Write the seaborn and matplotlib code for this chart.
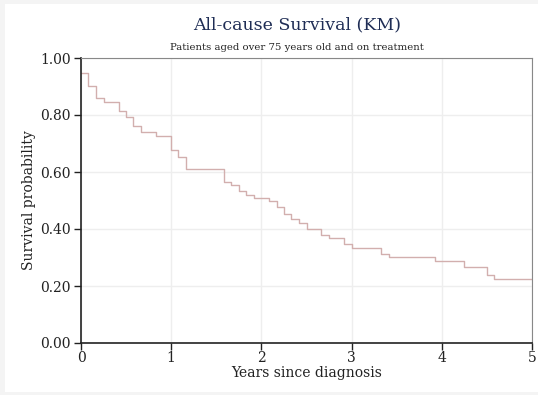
import matplotlib
matplotlib.use("Agg")
import matplotlib.pyplot as plt
import seaborn as sns
import pandas as pd
from matplotlib.patches import Rectangle

times = [0, 0.08, 0.17, 0.25, 0.42, 0.5, 0.58, 0.66, 0.83, 1.0, 1.08, 1.16, 1.58, 1.66,
         1.75, 1.83, 1.92, 2.08, 2.17, 2.25, 2.33, 2.42, 2.5, 2.66, 2.75, 2.92, 3.0, 3.33,
         3.42, 3.92, 4.25, 4.5, 4.58, 5.0]
surv = [0.946, 0.903, 0.859, 0.847, 0.815, 0.794, 0.760, 0.741, 0.727, 0.676, 0.651, 0.609,
        0.565, 0.553, 0.533, 0.520, 0.508, 0.498, 0.476, 0.454, 0.434, 0.421, 0.400, 0.378,
        0.367, 0.346, 0.334, 0.312, 0.301, 0.289, 0.268, 0.239, 0.224, 0.224]
xticks = [0, 1, 2, 3, 4, 5]
yticks = [0.0, 0.2, 0.4, 0.6, 0.8, 1.0]
ytick_labels = ["0.00", "0.20", "0.40", "0.60", "0.80", "1.00"]

sns.set_theme(style="white")
plt.rcParams["font.family"] = ["DejaVu Serif"]

W, H = 538, 395
fig = plt.figure(figsize=(W / 100, H / 100), dpi=100, facecolor="#f4f4f4")
fig.patches.append(Rectangle((5 / W, 3 / H), 1 - 5 / W, 1 - 7 / H, transform=fig.transFigure,
                             facecolor="white", edgecolor="none", zorder=-10))

ax = fig.add_axes([81 / W, 1 - 343 / H, (532 - 81) / W, (343 - 58) / H])
ax.set_zorder(1)
ax.set_facecolor("white")

df = pd.DataFrame({"t": times, "s": surv})
sns.lineplot(data=df, x="t", y="s", ax=ax, drawstyle="steps-post", color="#d2afae",
             linewidth=1.0)

ax.set_xlim(0, 5)
ax.set_ylim(0, 1)
ax.set_xticks(xticks)
ax.set_xticklabels([str(x) for x in xticks])
ax.set_yticks(yticks)
ax.set_yticklabels(ytick_labels)
ax.grid(True, color="#eeeeee", linewidth=1.0)
ax.set_axisbelow(True)

for side in ["top", "right"]:
    ax.spines[side].set_color("#888888")
    ax.spines[side].set_linewidth(0.8)
for side in ["left", "bottom"]:
    ax.spines[side].set_color("#222222")
    ax.spines[side].set_linewidth(1.2)

ax.tick_params(axis="both", which="major", direction="out", length=5, width=1,
               color="#222222", labelsize=10, labelcolor="#222222",
               left=True, bottom=True)
ax.tick_params(axis="x", pad=0.5)
ax.tick_params(axis="y", pad=2.5)

ax.set_xlabel("Years since diagnosis", fontsize=10, color="#222222", labelpad=1)
ax.set_ylabel("Survival probability", fontsize=10, color="#222222", labelpad=3)

fig.text(297 / W, 1 - 25 / H, "All-cause Survival (KM)", ha="center", va="center",
         fontsize=12.5, color="#1f2d55", zorder=5)
fig.text(297 / W, 1 - 48 / H, "Patients aged over 75 years old and on treatment",
         ha="center", va="center", fontsize=7.3, color="#222222", zorder=5)

fig.savefig("out.png", dpi=100, facecolor=fig.get_facecolor())
